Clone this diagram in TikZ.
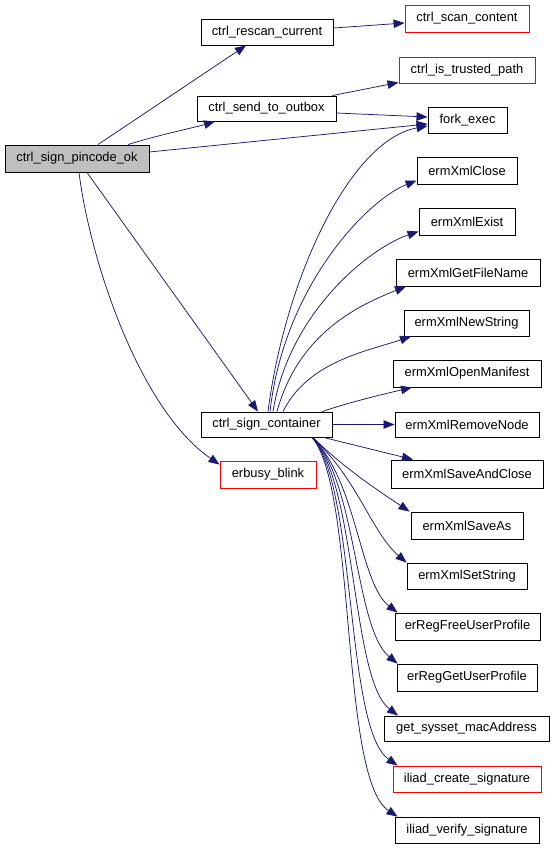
\documentclass[tikz,border=0pt]{standalone}
\usepackage{fontspec}
\setmainfont{Liberation Sans}
\usetikzlibrary{arrows.meta}
\definecolor{edgec}{RGB}{25,25,112}
\definecolor{grayf}{RGB}{191,191,191}
\begin{document}
\begin{tikzpicture}[x=1pt,y=-1pt,
  fn/.style={draw=black, line width=0.9pt, inner sep=0pt, minimum height=26pt, fill=white,
    font=\fontsize{12.9}{15}\selectfont},
  redfn/.style={fn, draw=red},
  rootfn/.style={fn, fill=grayf},
  edge/.style={draw=edgec, line width=0.75pt, -{Triangle[length=11pt,width=8.5pt]}}]
\useasboundingbox (0,0) rectangle (555,848);

% nodes
\node[rootfn, minimum width=144pt, minimum height=27pt] (pin) at (77,158.5) {ctrl\_sign\_pincode\_ok};
\node[fn, minimum width=132pt] (rescan) at (267,32) {ctrl\_rescan\_current};
\node[redfn, minimum width=124pt, minimum height=27pt] (scan) at (467,18.5) {ctrl\_scan\_content};
\node[redfn, minimum width=136pt] (trusted) at (467,70) {ctrl\_is\_trusted\_path};
\node[fn, minimum width=139pt, minimum height=25pt] (outbox) at (266.5,108.5) {ctrl\_send\_to\_outbox};
\node[fn, minimum width=79pt] (fork) at (467.5,120) {fork\_exec};
\node[fn, minimum width=100pt, minimum height=27pt] (close) at (467,170.5) {ermXmlClose};
\node[fn, minimum width=96pt, minimum height=27pt] (exist) at (467,221.5) {ermXmlExist};
\node[fn, minimum width=144pt, minimum height=27pt] (getfn) at (468,272.5) {ermXmlGetFileName};
\node[fn, minimum width=125pt] (newstr) at (466.5,323) {ermXmlNewString};
\node[fn, minimum width=148pt, minimum height=27pt] (openm) at (467,373.5) {ermXmlOpenManifest};
\node[fn, minimum width=131pt, minimum height=25pt] (cont) at (266.5,424.5) {ctrl\_sign\_container};
\node[fn, minimum width=144pt, minimum height=25pt] (remove) at (467,424.5) {ermXmlRemoveNode};
\node[redfn, minimum width=96pt, minimum height=27pt] (busy) at (268,474.5) {erbusy\_blink};
\node[fn, minimum width=152pt, minimum height=28pt] (saveclose) at (467,474) {ermXmlSaveAndClose};
\node[fn, minimum width=112pt, minimum height=27pt] (saveas) at (467,525.5) {ermXmlSaveAs};
\node[fn, minimum width=120pt] (setstr) at (467,576) {ermXmlSetString};
\node[fn, minimum width=145pt, minimum height=27pt] (freeup) at (467.5,626.5) {erRegFreeUserProfile};
\node[fn, minimum width=140pt, minimum height=27pt] (getup) at (467,677.5) {erRegGetUserProfile};
\node[fn, minimum width=165pt, minimum height=25pt] (mac) at (466.5,728.5) {get\_sysset\_macAddress};
\node[redfn, minimum width=148pt] (create) at (467,779) {iliad\_create\_signature};
\node[fn, minimum width=144pt] (verify) at (467,830) {iliad\_verify\_signature};

% edges from ctrl_sign_pincode_ok
\draw[edge] ([xshift=21pt]pin.north) -- ([xshift=-21pt]rescan.south);
\draw[edge] ([xshift=51pt]pin.north) .. controls +(32,-10) and +(-20,6) .. ([xshift=-51.5pt]outbox.south);
\draw[edge] ([yshift=6.5pt]pin.east) -- ([yshift=-4pt]fork.west);
\draw[edge] ([xshift=10pt]pin.south) -- ([xshift=-8.5pt]cont.north);
\draw[edge] ([xshift=2pt]pin.south) .. controls +(11,88) and +(-80,-55) .. ([yshift=-4pt]busy.north west);

% edges of rescan / outbox
\draw[edge] ([yshift=4pt]rescan.east) -- ([yshift=-4.5pt]scan.west);
\draw[edge] ([xshift=-4pt]outbox.north east) -- ([yshift=1pt]trusted.south west);
\draw[edge] ([yshift=-4.5pt]outbox.east) -- ([yshift=3pt]fork.west);

% edges from ctrl_sign_container, upwards
\draw[edge] ([xshift=1.5pt]cont.north) .. controls +(17,-132) and +(-78,14) .. ([yshift=-6pt]fork.west);
\draw[edge] ([xshift=3.5pt]cont.north) .. controls +(14,-125) and +(-50,20) .. ([yshift=-10pt]close.west);
\draw[edge] ([xshift=6.5pt]cont.north) .. controls +(16,-100) and +(-48,16) .. ([yshift=-10pt]exist.west);
\draw[edge] ([xshift=10.5pt]cont.north) .. controls +(22,-80) and +(-45,18) .. ([xshift=-62pt]getfn.south);
\draw[edge] ([xshift=16.5pt]cont.north) .. controls +(25,-50) and +(-45,15) .. ([xshift=-55.5pt]newstr.south);
\draw[edge] ([xshift=55.5pt]cont.north) .. controls +(30,-10) and +(-30,7) .. ([xshift=-55pt]openm.south);
\draw[edge] (cont.east) -- (remove.west);

% edges from ctrl_sign_container, downwards
\draw[edge] ([xshift=57pt]cont.south) -- ([xshift=-54pt]saveclose.north);
\draw[edge] ([xshift=46.5pt]cont.south) .. controls +(30,30) and +(-30,-20) .. ([xshift=-1pt]saveas.north west);
\draw[edge] ([xshift=45.5pt]cont.south) .. controls +(45,40) and +(-35,-30) .. (setstr.north west);
\draw[edge] ([xshift=45.5pt]cont.south) .. controls +(45,43) and +(-38,-29) .. ([xshift=3pt]freeup.north west);
\draw[edge] ([xshift=45.5pt]cont.south) .. controls +(45,43) and +(-43,-35) .. ([xshift=1pt]getup.north west);
\draw[edge] ([xshift=45.5pt]cont.south) .. controls +(45,45) and +(-47,-36) .. ([xshift=-68.5pt]mac.north);
\draw[edge] ([xshift=45.5pt]cont.south) .. controls +(45,48) and +(-53,-37) .. ([xshift=5pt]create.north west);
\draw[edge] ([xshift=45.5pt]cont.south) .. controls +(45,53) and +(-58,-38) .. ([xshift=3pt]verify.north west);
\end{tikzpicture}
\end{document}
